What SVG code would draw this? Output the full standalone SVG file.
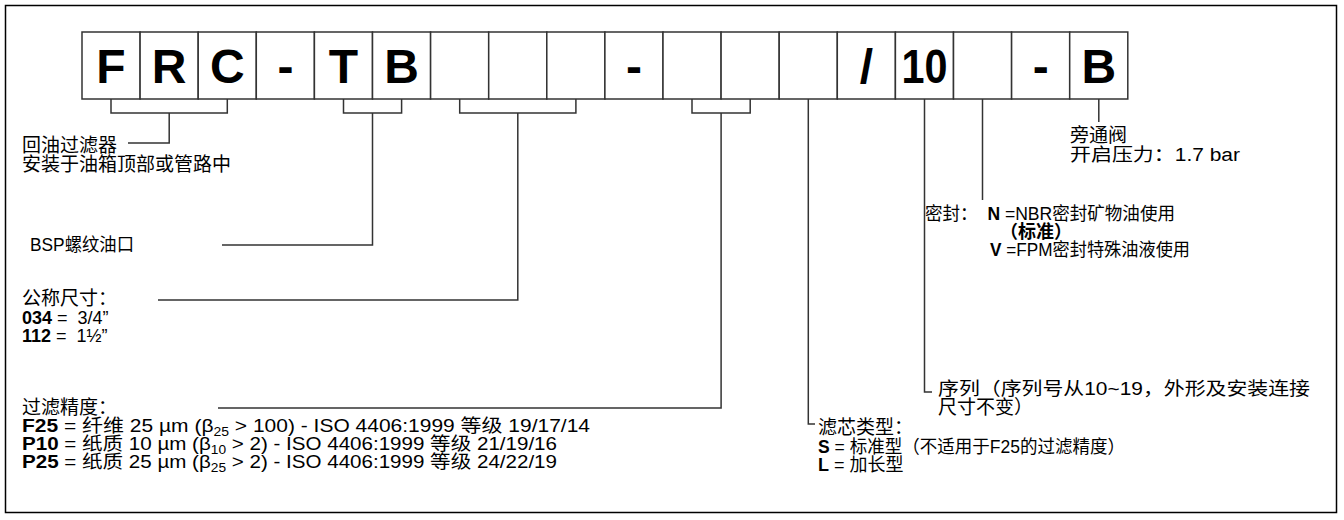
<svg xmlns="http://www.w3.org/2000/svg" width="1344" height="520" viewBox="0 0 1344 520">
<style>
.frame{fill:#fff;stroke:#000;stroke-width:1.5}
.cell{fill:#fff;stroke:#333;stroke-width:1.5}
.big{font-family:"Liberation Sans","Noto Sans CJK SC",sans-serif;font-weight:bold;font-size:48px;text-anchor:middle;fill:#000}
.t{font-family:"Liberation Sans","Noto Sans CJK SC",sans-serif;font-size:18px;fill:#000}
.c{font-size:19px}
.b{font-weight:bold}
.sub{font-size:12px}
.ln{fill:none;stroke:#333;stroke-width:1.5}
</style>
<rect class="frame" x="5.5" y="5.5" width="1331" height="507"/>
<g id="code">
<rect class="cell" x="82" y="32" width="58.1" height="67"/>
<rect class="cell" x="140.1" y="32" width="58.1" height="67"/>
<rect class="cell" x="198.2" y="32" width="58.1" height="67"/>
<rect class="cell" x="256.3" y="32" width="58.1" height="67"/>
<rect class="cell" x="314.4" y="32" width="58.1" height="67"/>
<rect class="cell" x="372.5" y="32" width="58.1" height="67"/>
<rect class="cell" x="430.6" y="32" width="58.1" height="67"/>
<rect class="cell" x="488.7" y="32" width="58.1" height="67"/>
<rect class="cell" x="546.8" y="32" width="58.1" height="67"/>
<rect class="cell" x="604.9" y="32" width="58.1" height="67"/>
<rect class="cell" x="663" y="32" width="58.1" height="67"/>
<rect class="cell" x="721.1" y="32" width="58.1" height="67"/>
<rect class="cell" x="779.2" y="32" width="58.1" height="67"/>
<rect class="cell" x="837.3" y="32" width="58.1" height="67"/>
<rect class="cell" x="895.4" y="32" width="58.1" height="67"/>
<rect class="cell" x="953.5" y="32" width="58.1" height="67"/>
<rect class="cell" x="1011.6" y="32" width="58.1" height="67"/>
<rect class="cell" x="1069.7" y="32" width="58.1" height="67"/>
<text class="big" x="111" y="83">F</text>
<text class="big" x="169.2" y="83">R</text>
<text class="big" x="227.3" y="83">C</text>
<text class="big" x="285.4" y="83">-</text>
<text class="big" x="343.5" y="83">T</text>
<text class="big" x="401.6" y="83">B</text>
<text class="big" x="634" y="83">-</text>
<text class="big" x="866.4" y="83">/</text>
<text class="big" x="924.5" y="83" textLength="46" lengthAdjust="spacingAndGlyphs">10</text>
<text class="big" x="1040.7" y="83">-</text>
<text class="big" x="1098.8" y="83">B</text>
</g>
<g id="connectors">
<path class="ln" d="M111,99V113H227.3V99M169.2,113V143H128"/>
<path class="ln" d="M343.5,99V113H401.6V99M372.5,113V245H222"/>
<path class="ln" d="M459.7,99V113H575.9V99M517.8,113V300H158"/>
<path class="ln" d="M692,99V113H750.2V99M721.1,113V408H218"/>
<path class="ln" d="M808.3,99V424H815"/>
<path class="ln" d="M924.5,99V392H932"/>
<path class="ln" d="M982.5,99V200"/>
<path class="ln" d="M1098.8,99V122"/>
</g>
<g id="n-return">
<text class="t c" x="22" y="152">回油过滤器</text>
<text class="t c" x="22" y="171">安装于油箱顶部或管路中</text>
</g>
<g id="n-bypass">
<text class="t c" x="1070" y="142">旁通阀</text>
<text class="t" x="1070" y="161" textLength="170" lengthAdjust="spacingAndGlyphs">开启压力：1.7 bar</text>
</g>
<g id="n-bsp">
<text class="t" x="30" y="251" textLength="104" lengthAdjust="spacingAndGlyphs">BSP螺纹油口</text>
</g>
<g id="n-seal">
<text class="t" x="925" y="220" textLength="250" lengthAdjust="spacingAndGlyphs">密封：&#160;&#160;<tspan class="b">N</tspan> =NBR密封矿物油使用</text>
<text class="t b" x="1000" y="238">（标准）</text>
<text class="t" x="990" y="256" textLength="200" lengthAdjust="spacingAndGlyphs"><tspan class="b">V</tspan> =FPM密封特殊油液使用</text>
</g>
<g id="n-size">
<text class="t c" x="22" y="305">公称尺寸：</text>
<text class="t" x="22" y="324"><tspan class="b">034</tspan> =&#160;&#160;3/4”</text>
<text class="t" x="22" y="342"><tspan class="b">112</tspan> =&#160;&#160;1½”</text>
</g>
<g id="n-series">
<text class="t" x="938" y="395" textLength="372" lengthAdjust="spacingAndGlyphs">序列（序列号从10~19，外形及安装连接</text>
<text class="t c" x="938" y="414">尺寸不变）</text>
</g>
<g id="n-filter">
<text class="t c" x="22" y="414">过滤精度：</text>
<text class="t" x="22" y="432" textLength="568" lengthAdjust="spacingAndGlyphs"><tspan class="b">F25</tspan> = 纤维 25 µm (β<tspan class="sub" dy="4">25</tspan><tspan dy="-4"> &gt; 100) - ISO 4406:1999 等级 19/17/14</tspan></text>
<text class="t" x="22" y="450" textLength="535" lengthAdjust="spacingAndGlyphs"><tspan class="b">P10</tspan> = 纸质 10 µm (β<tspan class="sub" dy="4">10</tspan><tspan dy="-4"> &gt; 2) - ISO 4406:1999 等级 21/19/16</tspan></text>
<text class="t" x="22" y="468" textLength="535" lengthAdjust="spacingAndGlyphs"><tspan class="b">P25</tspan> = 纸质 25 µm (β<tspan class="sub" dy="4">25</tspan><tspan dy="-4"> &gt; 2) - ISO 4406:1999 等级 24/22/19</tspan></text>
</g>
<g id="n-element">
<text class="t c" x="818" y="434">滤芯类型：</text>
<text class="t" x="818" y="453" textLength="307" lengthAdjust="spacingAndGlyphs"><tspan class="b">S</tspan> = 标准型（不适用于F25的过滤精度）</text>
<text class="t" x="818" y="471"><tspan class="b">L</tspan> = 加长型</text>
</g>
</svg>
